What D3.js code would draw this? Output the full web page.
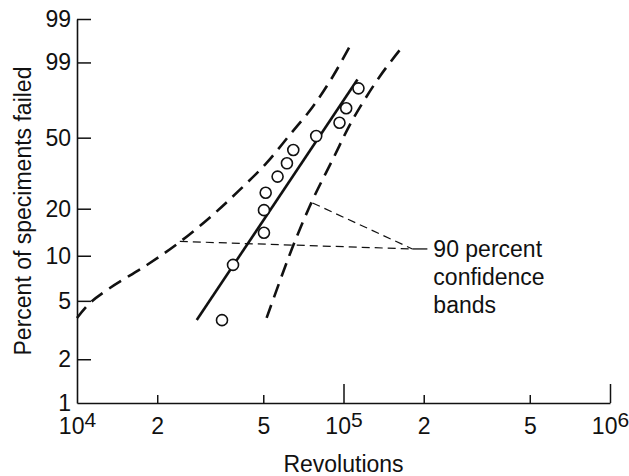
<!DOCTYPE html>
<html>
<head>
<meta charset="utf-8">
<script src="https://cdn.jsdelivr.net/npm/d3@7"></script>
<style>
  html, body { margin: 0; padding: 0; background: #fff; }
  svg { display: block; font-family: "Liberation Sans", Arial, sans-serif; }
</style>
</head>
<body>
<svg id="chart" width="629" height="476"></svg>
<script>
// ---------- data ----------
const yTickPct    = [1, 2, 5, 10, 20, 50, 90, 99];
const yTickLabels = ["1", "2", "5", "10", "20", "50", "99", "99"];
const xMajorTicks = [1e4, 1e5, 1e6];
const xMajorExps  = ["4", "5", "6"];
const xMinorTicks = [2e4, 5e4, 2e5, 5e5];
const xMinorLabels = ["2", "5", "2", "5"];

const pointRevs = [113800, 102350, 96600, 79000, 64800, 61340, 56580, 51050, 50300, 50300, 38500, 35000];
const pointPct  = [78.2, 67.0, 58.5, 50.9, 43.4, 36.9, 31.1, 25.0, 19.6, 14.1, 8.7, 3.7];

const fitRevs = [28140, 112830];
const fitPct  = [3.71, 82.7];

const lowerBandRevs = [10000, 11190, 13290, 18290, 24310, 32320, 40780, 51470, 62790, 76550, 90950, 105300];
const lowerBandPct  = [3.83, 4.84, 6.10, 8.69, 12.3, 18.3, 26.0, 37.1, 51.5, 67.7, 83.9, 94.75];

const upperBandRevs = [51470, 64420, 76550, 90950, 108070, 136400, 164900];
const upperBandPct  = [3.83, 11.4, 22.6, 38.5, 60.1, 83.9, 94.5];

const leaderFromRevs = [24310, 76550];
const leaderFromPct  = [12.4, 21.7];
const leaderMeet = [181300, 11.08];
const leaderEnd  = [206400, 11.08];
const bandLabelLines = ["90 percent", "confidence", "bands"];

const xTitle = "Revolutions";
const yTitle = "Percent of speciments failed";

// ---------- scales ----------
const W = p => Math.log(-Math.log(1 - p / 100));   // Weibull probability transform
const x = d3.scaleLog().domain([1e4, 1e6]).range([77, 610]);
const yW = d3.scaleLinear().domain([W(1), W(99)]).range([403, 19]);
const y = p => yW(W(p));

const svg = d3.select("#chart");
const ink = "#111";
const fontSize = 23;
const ff = "Liberation Sans, Arial, sans-serif";

// ---------- y axis ----------
const yAxis = d3.axisLeft(yW)
  .tickValues(yTickPct.map(W))
  .tickFormat((d, i) => yTickLabels[i])
  .tickSizeInner(-14)
  .tickSizeOuter(0)
  .tickPadding(6);
const gy = svg.append("g").attr("transform", "translate(77,0)").call(yAxis);
gy.select(".domain").attr("stroke", ink).attr("stroke-width", 1.6);
gy.selectAll(".tick line").attr("stroke", ink).attr("stroke-width", 1.5)
  .attr("display", (d, i) => i === 0 ? "none" : null);
gy.selectAll(".tick text").attr("font-size", fontSize).attr("fill", ink).attr("font-family", ff);

// ---------- x axis ----------
const gxMinor = svg.append("g").attr("transform", "translate(0,403)")
  .call(d3.axisBottom(x).tickValues(xMinorTicks).tickSizeInner(-8).tickSizeOuter(0)
        .tickFormat((d, i) => xMinorLabels[i]).tickPadding(15));
gxMinor.select(".domain").attr("stroke", ink).attr("stroke-width", 1.6);
gxMinor.selectAll(".tick line").attr("stroke", ink).attr("stroke-width", 1.5);
gxMinor.selectAll(".tick text").attr("font-size", fontSize).attr("fill", ink).attr("font-family", ff);

const gxMajor = svg.append("g").attr("transform", "translate(0,403)")
  .call(d3.axisBottom(x).tickValues(xMajorTicks).tickSizeInner(-19).tickSizeOuter(0)
        .tickFormat(() => "").tickPadding(15));
gxMajor.select(".domain").remove();
gxMajor.selectAll(".tick line").attr("stroke", ink).attr("stroke-width", 1.5)
  .attr("display", (d, i) => i === 0 ? "none" : null);
gxMajor.selectAll(".tick text").each(function (d, i) {
  const t = d3.select(this);
  t.attr("font-size", fontSize).attr("fill", ink).attr("font-family", ff);
  t.append("tspan").text("10");
  t.append("tspan").attr("dy", -7).attr("font-size", 21).text(xMajorExps[i]);
});

// ---------- axis titles ----------
svg.append("text")
  .attr("x", x(1e5)).attr("y", 472)
  .attr("text-anchor", "middle").attr("font-size", fontSize).attr("fill", ink)
  .text(xTitle);
svg.append("text")
  .attr("transform", `translate(31,${(19 + 403) / 2}) rotate(-90)`)
  .attr("text-anchor", "middle").attr("font-size", fontSize).attr("fill", ink)
  .text(yTitle);

// ---------- confidence bands ----------
const bandLine = d3.line().x(d => x(d[0])).y(d => y(d[1])).curve(d3.curveCatmullRom.alpha(0.5));
svg.append("path")
  .datum(lowerBandRevs.map((r, i) => [r, lowerBandPct[i]]))
  .attr("d", bandLine).attr("fill", "none").attr("stroke", ink)
  .attr("stroke-width", 2.6).attr("stroke-dasharray", "14,8");
svg.append("path")
  .datum(upperBandRevs.map((r, i) => [r, upperBandPct[i]]))
  .attr("d", bandLine).attr("fill", "none").attr("stroke", ink)
  .attr("stroke-width", 2.6).attr("stroke-dasharray", "14,8");

// ---------- fitted line ----------
svg.append("path")
  .datum(fitRevs.map((r, i) => [r, fitPct[i]]))
  .attr("d", d3.line().x(d => x(d[0])).y(d => y(d[1])))
  .attr("fill", "none").attr("stroke", ink).attr("stroke-width", 2.6);

// ---------- data points ----------
svg.append("g").selectAll("circle")
  .data(pointRevs.map((r, i) => [r, pointPct[i]]))
  .join("circle")
  .attr("cx", d => x(d[0])).attr("cy", d => y(d[1])).attr("r", 5.5)
  .attr("fill", "#fff").attr("stroke", ink).attr("stroke-width", 1.6);

// ---------- leader lines & label ----------
leaderFromRevs.forEach((r, i) => {
  svg.append("line")
    .attr("x1", x(r)).attr("y1", y(leaderFromPct[i]))
    .attr("x2", x(leaderMeet[0])).attr("y2", y(leaderMeet[1]))
    .attr("stroke", ink).attr("stroke-width", 1.2).attr("stroke-dasharray", "8,5");
});
svg.append("line")
  .attr("x1", x(leaderMeet[0])).attr("y1", y(leaderMeet[1]))
  .attr("x2", x(leaderEnd[0])).attr("y2", y(leaderEnd[1]))
  .attr("stroke", ink).attr("stroke-width", 1.3);
const lab = svg.append("text")
  .attr("x", x(leaderEnd[0]) + 6).attr("y", y(leaderEnd[1]) + 8)
  .attr("font-size", fontSize).attr("fill", ink);
bandLabelLines.forEach((s, i) => {
  lab.append("tspan").attr("x", x(leaderEnd[0]) + 6).attr("dy", i === 0 ? 0 : 28).text(s);
});
</script>
</body>
</html>
